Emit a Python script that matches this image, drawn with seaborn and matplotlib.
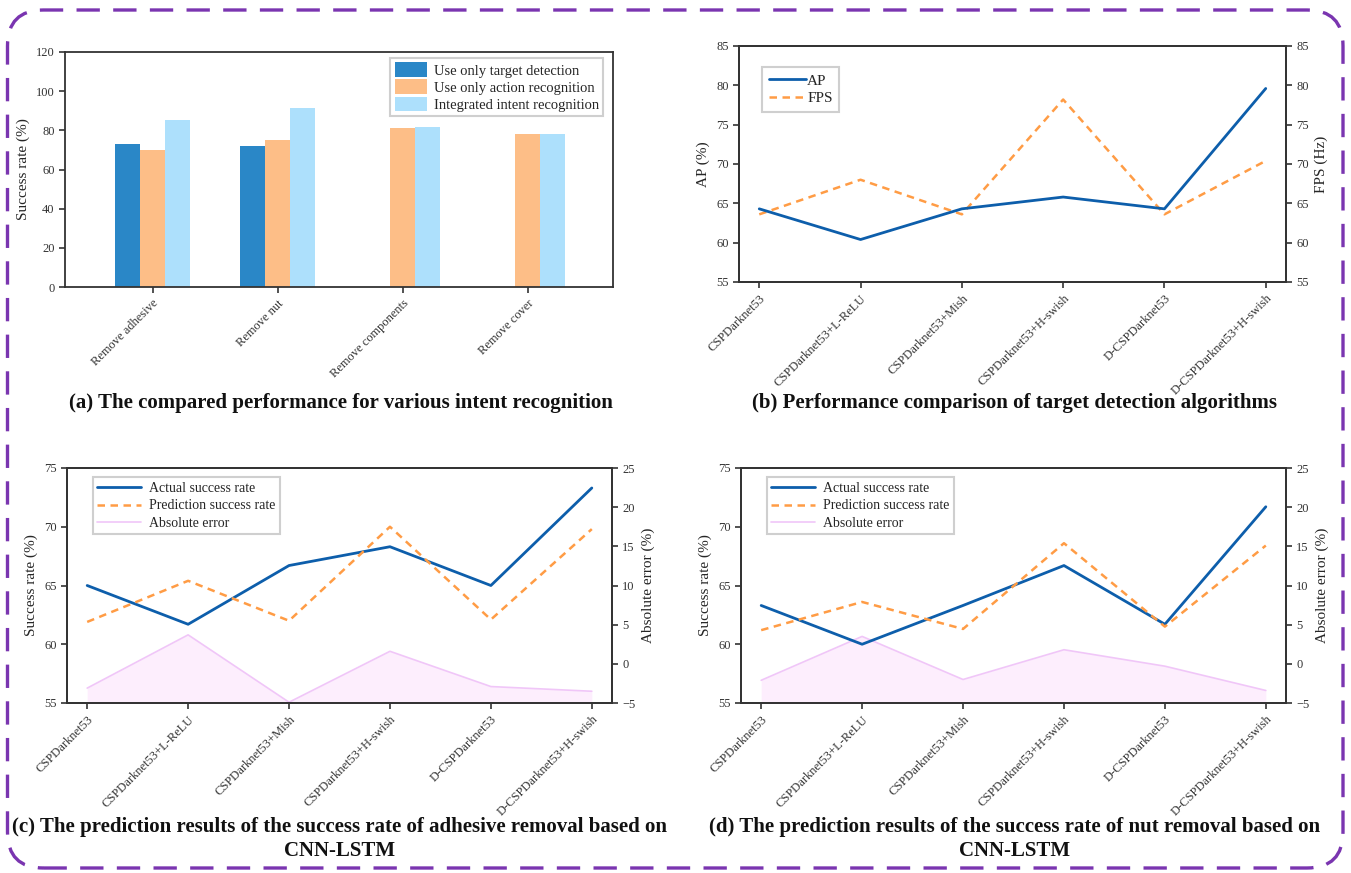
import numpy as np
import pandas as pd
import matplotlib
matplotlib.use("Agg")
import matplotlib.pyplot as plt
from matplotlib.patches import FancyBboxPatch, Patch
from matplotlib.lines import Line2D
import seaborn as sns

# ---- data -------------------------------------------------------------
tasks = ["Remove adhesive", "Remove nut", "Remove components", "Remove cover"]
methods = ["Use only target detection", "Use only action recognition",
           "Integrated intent recognition"]
target_detection = [72.8, 72.0, np.nan, np.nan]
action_recognition = [70.0, 75.1, 81.0, 78.1]
intent_recognition = [85.4, 91.4, 81.5, 78.3]

backbones = ["CSPDarknet53", "CSPDarknet53+L-ReLU", "CSPDarknet53+Mish",
             "CSPDarknet53+H-swish", "D-CSPDarknet53", "D-CSPDarknet53+H-swish"]
ap_values = [64.3, 60.4, 64.3, 65.8, 64.3, 79.6]
fps_values = [63.6, 68.0, 63.6, 78.2, 63.6, 70.4]

adhesive_actual = [65.0, 61.7, 66.7, 68.3, 65.0, 73.3]
adhesive_pred = [61.9, 65.4, 62.0, 70.0, 62.1, 69.8]
adhesive_err = [-3.1, 3.7, -4.9, 1.6, -2.9, -3.5]

nut_actual = [63.3, 60.0, 63.3, 66.7, 61.7, 71.7]
nut_pred = [61.2, 63.6, 61.3, 68.6, 61.5, 68.4]
nut_err = [-2.1, 3.5, -2.0, 1.8, -0.3, -3.4]

# ---- style ------------------------------------------------------------
sns.set_style("ticks")
plt.rcParams["font.family"] = ["Liberation Serif", "DejaVu Serif"]
plt.rcParams["axes.edgecolor"] = "#333333"
plt.rcParams["axes.linewidth"] = 1.3
plt.rcParams["xtick.color"] = "#333333"
plt.rcParams["ytick.color"] = "#333333"
plt.rcParams["xtick.major.width"] = 1.2
plt.rcParams["ytick.major.width"] = 1.2
plt.rcParams["xtick.major.size"] = 4
plt.rcParams["ytick.major.size"] = 4

C_DARK = "#2a87c7"
C_ORANGE = "#fdbe87"
C_LIGHT = "#ade0fc"
C_LINE = "#0d5eab"
C_DASH = "#ff9c45"
C_ERR = "#f0c6f8"
C_FILL = "#fdeefd"
TICK_FS = 9
LABEL_FS = 11
LEG_FS = 10.5
TITLE_FS = 15

W, H = 1351, 873
fig = plt.figure(figsize=(W / 100, H / 100), dpi=100)
fig.patch.set_facecolor("white")


def px_axes(left, top, right, bottom):
    return fig.add_axes([left / W, 1 - bottom / H, (right - left) / W, (bottom - top) / H])


def style_legend(leg):
    fr = leg.get_frame()
    fr.set_edgecolor("#cfcfcf")
    fr.set_linewidth(1.5)
    fr.set_facecolor("white")
    fr.set_alpha(1)


# ---- (a) grouped bars ---------------------------------------------------
ax_a = px_axes(65, 52, 613, 287)
bar_df = pd.DataFrame({
    "task": np.repeat(tasks, 3),
    "method": methods * len(tasks),
    "rate": np.ravel(np.column_stack([target_detection, action_recognition,
                                      intent_recognition])),
}).dropna()
sns.barplot(data=bar_df, x="task", y="rate", hue="method", order=tasks,
            hue_order=methods, palette=[C_DARK, C_ORANGE, C_LIGHT],
            width=0.6, saturation=1, linewidth=0, ax=ax_a)
ax_a.set_ylim(0, 120)
ax_a.set_yticks(range(0, 121, 20))
ax_a.set_xlim(-0.7, 3.68)
ax_a.set_xlabel("")
ax_a.set_ylabel("Success rate (%)", fontsize=LABEL_FS)
ax_a.tick_params(labelsize=TICK_FS)
for lab in ax_a.get_xticklabels():
    lab.set_rotation(45)
    lab.set_ha("right")
    lab.set_rotation_mode("anchor")
bar_handles = [Patch(facecolor=c, edgecolor="none") for c in (C_DARK, C_ORANGE, C_LIGHT)]
leg = ax_a.legend(bar_handles, methods, loc="upper right", bbox_to_anchor=(0.9825, 0.975),
                  fontsize=LEG_FS, frameon=True, fancybox=False, handlelength=2.2,
                  handleheight=1.2, handletextpad=0.5, borderpad=0.3,
                  labelspacing=0.12, borderaxespad=0)
style_legend(leg)

x_pos = np.arange(len(backbones))


def setup_line_axes(ax, ax2, ylim, ylim2, yticks, yticks2, ylabel, ylabel2):
    ax.set_xlim(-0.2, 5.2)
    ax.set_ylim(*ylim)
    ax.set_yticks(yticks)
    ax2.set_ylim(*ylim2)
    ax2.set_yticks(yticks2)
    ax.set_xticks(x_pos)
    ax.set_xticklabels(backbones, rotation=45, ha="right", rotation_mode="anchor")
    ax.set_ylabel(ylabel, fontsize=LABEL_FS)
    ax2.set_ylabel(ylabel2, fontsize=LABEL_FS)
    ax.set_xlabel("")
    ax.tick_params(labelsize=TICK_FS)
    ax2.tick_params(labelsize=TICK_FS)
    for s in ax2.spines.values():
        s.set_color("#333333")
        s.set_linewidth(1.3)
    ax.set_zorder(ax2.get_zorder() + 1)
    ax.patch.set_visible(False)


# ---- (b) AP and FPS -----------------------------------------------------
ax_b = px_axes(739, 46, 1286, 282)
ax_b2 = ax_b.twinx()
sns.lineplot(x=x_pos, y=ap_values, color=C_LINE, linewidth=2, ax=ax_b)
sns.lineplot(x=x_pos, y=fps_values, color=C_DASH, linewidth=1.8, ax=ax_b2)
ax_b2.lines[0].set_dashes([3, 2.2])
setup_line_axes(ax_b, ax_b2, (55, 85), (55, 85), range(55, 86, 5), range(55, 86, 5),
                "AP (%)", "FPS (Hz)")
h_b = [Line2D([], [], color=C_LINE, lw=2),
       Line2D([], [], color=C_DASH, lw=1.8, dashes=[3, 2.2])]
leg = ax_b.legend(h_b, ["AP", "FPS"], loc="upper left", bbox_to_anchor=(0.042, 0.91),
                  fontsize=LEG_FS + 0.5, frameon=True, fancybox=False, handlelength=2.4,
                  handletextpad=0.1, borderpad=0.45, labelspacing=0.25, borderaxespad=0)
style_legend(leg)


# ---- (c), (d) CNN-LSTM predictions ---------------------------------------
def prediction_panel(box, actual, pred, err):
    ax = px_axes(*box)
    ax2 = ax.twinx()
    ax2.fill_between(x_pos, err, -5, color=C_FILL, linewidth=0)
    sns.lineplot(x=x_pos, y=err, color=C_ERR, linewidth=1.2, ax=ax2)
    sns.lineplot(x=x_pos, y=actual, color=C_LINE, linewidth=2, ax=ax)
    sns.lineplot(x=x_pos, y=pred, color=C_DASH, linewidth=1.8, ax=ax)
    ax.lines[1].set_dashes([3, 2.2])
    setup_line_axes(ax, ax2, (55, 75), (-5, 25), range(55, 76, 5), range(-5, 26, 5),
                    "Success rate (%)", "Absolute error (%)")
    handles = [Line2D([], [], color=C_LINE, lw=2),
               Line2D([], [], color=C_DASH, lw=1.8, dashes=[3, 2.2]),
               Line2D([], [], color=C_ERR, lw=1.2)]
    lg = ax.legend(handles, ["Actual success rate", "Prediction success rate",
                             "Absolute error"], loc="upper left",
                   bbox_to_anchor=(0.047, 0.96), fontsize=LEG_FS - 0.5, frameon=True,
                   fancybox=False, handlelength=3.1, handletextpad=0.6,
                   borderpad=0.35, labelspacing=0.3, borderaxespad=0)
    style_legend(lg)
    return ax


prediction_panel((67, 468, 612, 703), adhesive_actual, adhesive_pred, adhesive_err)
prediction_panel((741, 468, 1286, 703), nut_actual, nut_pred, nut_err)

# ---- captions -----------------------------------------------------------
cap = dict(ha="center", va="center", fontsize=TITLE_FS, fontweight="bold", color="#111111")
fig.text(341 / W, 1 - 403 / H,
         "(a) The compared performance for various intent recognition", **cap)
fig.text(1015 / W, 1 - 403 / H,
         "(b) Performance comparison of target detection algorithms", **cap)
fig.text(340 / W, 1 - 839 / H,
         "(c) The prediction results of the success rate of adhesive removal based on\nCNN-LSTM",
         linespacing=1.3, **cap)
fig.text(1015 / W, 1 - 839 / H,
         "(d) The prediction results of the success rate of nut removal based on\nCNN-LSTM",
         linespacing=1.3, **cap)

# ---- dashed rounded frame ------------------------------------------------
frame = FancyBboxPatch((0.075, 0.05), 13.355, 8.58,
                       boxstyle="round,pad=0,rounding_size=0.36",
                       transform=fig.dpi_scale_trans, fill=False,
                       edgecolor="#7a35b0", linewidth=2.4, linestyle=(0, (7, 4)))
fig.patches.append(frame)

fig.savefig("out.png", dpi=100, facecolor="white")
